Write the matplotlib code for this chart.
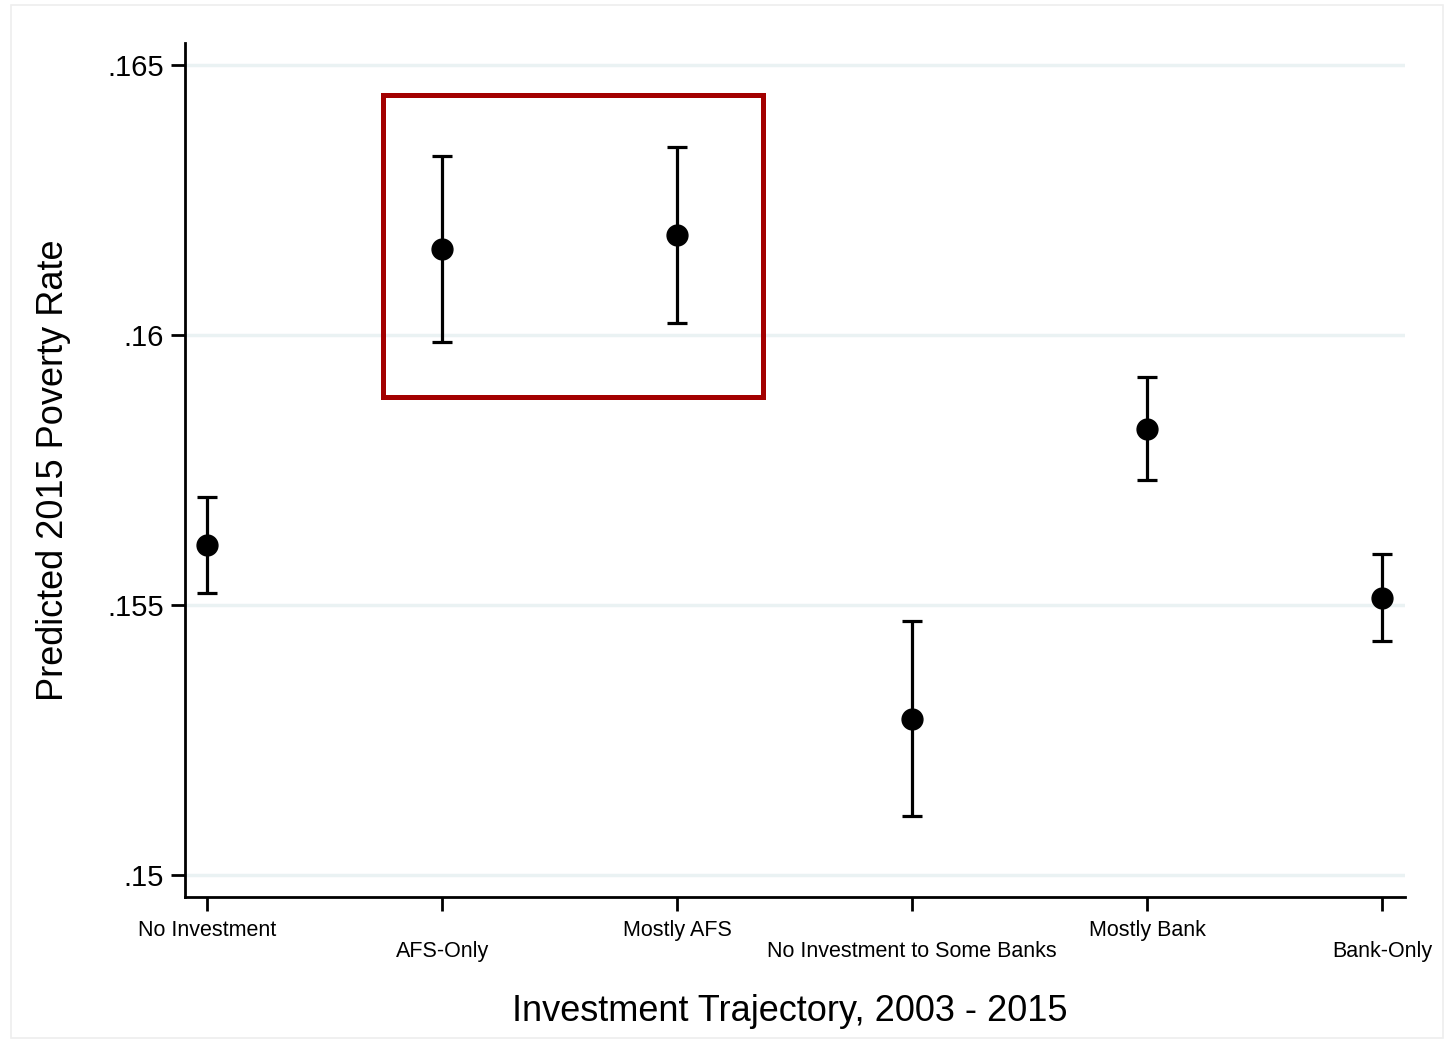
import matplotlib
matplotlib.use("Agg")
import matplotlib.pyplot as plt
from matplotlib.patches import Rectangle

plt.rcParams['font.family'] = ['Liberation Sans', 'DejaVu Sans']

# predicted 2015 poverty rate with confidence intervals
categories = ["No Investment", "AFS-Only", "Mostly AFS",
              "No Investment to Some Banks", "Mostly Bank", "Bank-Only"]
estimate = [0.15611, 0.16159, 0.16185, 0.15289, 0.15826, 0.15513]
ci_upper = [0.15700, 0.16332, 0.16348, 0.15470, 0.15922, 0.15594]
ci_lower = [0.15522, 0.15987, 0.16022, 0.15109, 0.15731, 0.15433]
yticks = [0.15, 0.155, 0.16, 0.165]
ytick_labels = [".15", ".155", ".16", ".165"]

x = list(range(1, len(categories) + 1))
err_lo = [e - l for e, l in zip(estimate, ci_lower)]
err_hi = [u - e for e, u in zip(estimate, ci_upper)]

fig = plt.figure(figsize=(14.5, 10.4), dpi=100)
ax = fig.add_axes([0.1276, 0.1375, 0.969 - 0.1276, 0.9587 - 0.1375])

# outer frame of the graph region
fig.add_artist(Rectangle((11 / 1450, 0.002), 1432 / 1450, 0.993, transform=fig.transFigure,
                         fill=False, edgecolor="#eeeeee", linewidth=1.2))

ax.errorbar(x, estimate, yerr=[err_lo, err_hi], fmt="o", color="black",
            markersize=15, elinewidth=2.3, capsize=7.5, capthick=2.3, zorder=3)

# highlight box around AFS groups
ax.add_patch(Rectangle((1.749, 0.15885), 3.366 - 1.749, 0.16444 - 0.15885,
                       fill=False, edgecolor="#a30000", linewidth=3.6, zorder=4))

ax.set_xlim(0.906, 6.098)
ax.set_ylim(0.14959, 0.16541)
ax.set_yticks(yticks)
ax.set_yticklabels(ytick_labels, fontsize=21)
ax.set_xticks(x)
ax.set_xticklabels(categories, fontsize=15.5)
for i, t in enumerate(ax.xaxis.get_major_ticks()):
    if i % 2 == 1:
        t.set_pad(22)
    else:
        t.set_pad(6.5)

ax.grid(axis="y", color="#eaf2f3", linewidth=2.5, zorder=0)
ax.set_axisbelow(True)
for s in ["top", "right"]:
    ax.spines[s].set_visible(False)
for s in ["left", "bottom"]:
    ax.spines[s].set_linewidth(2)
ax.tick_params(axis="both", length=10, width=2, direction="out")
ax.tick_params(axis="y", pad=5)

ax.set_xlabel("Investment Trajectory, 2003 - 2015", fontsize=26)
ax.set_ylabel("Predicted 2015 Poverty Rate", fontsize=26, labelpad=26)
ax.xaxis.set_label_coords(0.496, -0.113)

fig.savefig("out.png", dpi=100, facecolor="white")
